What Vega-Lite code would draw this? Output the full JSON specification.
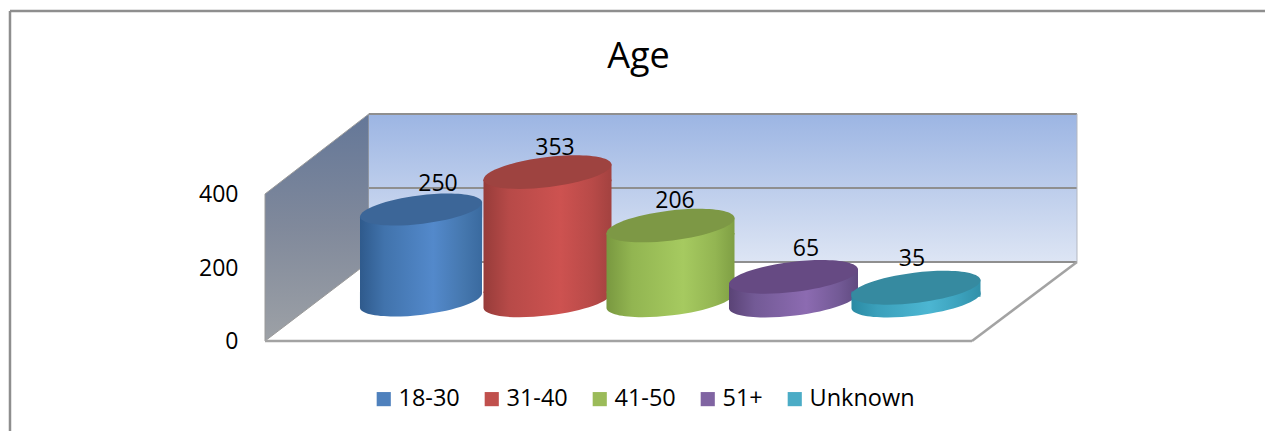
{
"$schema":"https://vega.github.io/schema/vega-lite/v6.json",
"width":1265,"height":431,"padding":0,"autosize":{"type":"none"},
"background":"white",
"view":{"stroke":null},
"title":{"text":"Age","font":"Open Sans","fontSize":36,"fontWeight":"normal","color":"#000000","anchor":"middle","dx":6,"dy":104,"offset":0,"baseline":"alphabetic"},
"data":{"values":[{"age":"18-30","count":250},{"age":"31-40","count":353},{"age":"41-50","count":206},{"age":"51+","count":65},{"age":"Unknown","count":35}]},
"resolve":{"scale":{"x":"independent","y":"independent"},"axis":{"y":"independent","x":"independent"}},
"layer":[
{"layer":[
 {"data":{"values":[{"depth":0,"lo":0,"hi":400},{"depth":14.7,"lo":215,"hi":618}]},
  "mark":{"type":"area","orient":"vertical","color":{"gradient":"linear","x1":0,"x2":0,"y1":0,"y2":1,"stops":[{"offset":0,"color":"#647798"},{"offset":0.5,"color":"#80899b"},{"offset":1,"color":"#9da1a6"}]},"stroke":"#9a9a9a","strokeWidth":1},
  "encoding":{"x":{"field":"depth","type":"quantitative","scale":{"domain":[0,100],"range":[265,972],"nice":false,"zero":false},"axis":null},
   "y":{"field":"lo","type":"quantitative","scale":{"domain":[0,400],"range":[341,194],"nice":false},"axis":{"values":[0,200,400],"title":null,"domain":false,"ticks":false,"grid":false,"offset":-240,"labelPadding":2,"labelOffset":0.5,"labelFont":"Open Sans","labelFontSize":23,"labelColor":"#000000"}},
   "y2":{"field":"hi"}}},
 {"data":{"values":[{"wall":"back"}]},
  "mark":{"type":"rect","color":{"gradient":"linear","x1":0,"x2":0,"y1":0,"y2":1,"stops":[{"offset":0,"color":"#9cb5e3"},{"offset":1,"color":"#dde5f4"}]}},
  "encoding":{"x":{"datum":14.7,"type":"quantitative"},"x2":{"datum":114.85},"y":{"datum":215,"type":"quantitative"},"y2":{"datum":618}}},
 {"data":{"values":[{"grid":618},{"grid":416},{"grid":215}]},
  "mark":{"type":"rule","color":"#8f8f8f","strokeWidth":2},
  "encoding":{"x":{"datum":14.7,"type":"quantitative"},"x2":{"datum":114.85},"y":{"field":"grid","type":"quantitative"}}},
 {"data":{"values":[{"edge":"right"}]},
  "mark":{"type":"rule","color":"#b4b8c0","strokeWidth":1},
  "encoding":{"x":{"datum":114.85,"type":"quantitative"},"y":{"datum":215,"type":"quantitative"},"y2":{"datum":618}}},
 {"data":{"values":[{"edge":"floor front"}]},
  "mark":{"type":"rule","color":"#a3a3a3","strokeWidth":2.5},
  "encoding":{"x":{"datum":0,"type":"quantitative"},"x2":{"datum":100},"y":{"datum":0,"type":"quantitative"}}},
 {"data":{"values":[{"edge":"floor right"}]},
  "mark":{"type":"rule","color":"#a3a3a3","strokeWidth":2.5},
  "encoding":{"x":{"datum":100,"type":"quantitative"},"x2":{"datum":114.85},"y":{"datum":0,"type":"quantitative"},"y2":{"datum":215}}},
 {"data":{"values":[{"edge":"frame top"}]},
  "mark":{"type":"rule","color":"#8e8e8e","strokeWidth":2.5},
  "encoding":{"x":{"datum":-36.07,"type":"quantitative"},"x2":{"datum":141.44},"y":{"datum":898,"type":"quantitative"}}},
 {"data":{"values":[{"edge":"frame left"}]},
  "mark":{"type":"rule","color":"#8e8e8e","strokeWidth":2.5},
  "encoding":{"x":{"datum":-36.07,"type":"quantitative"},"y":{"datum":-245,"type":"quantitative"},"y2":{"datum":898}}}
]},
{"encoding":{
  "x":{"field":"age","type":"nominal","sort":null,"scale":{"type":"point","domain":["18-30","31-40","41-50","51+","Unknown"],"range":[421,909],"padding":0},"axis":null},
  "y":{"field":"count","type":"quantitative","scale":{"domain":[0,400],"range":[300.5,155],"nice":false},"axis":null}},
 "layer":[
 {"mark":{"type":"bar","width":100,"yOffset":12,"y2Offset":-12},
  "encoding":{"y2":{"datum":0},"color":{"field":"age","type":"nominal","sort":null,"scale":{"domain":["18-30","31-40","41-50","51+","Unknown"],"range":["#4f81bd","#c0504d","#9bbb59","#8064a2","#4bacc6"]},
   "legend":{"title":null,"orient":"none","legendX":372,"legendY":387,"direction":"horizontal","columns":5,"symbolType":"square","symbolSize":200,"symbolStrokeWidth":0,"labelFont":"Open Sans","labelFontSize":23.5,"labelColor":"#000000","labelOffset":3,"columnPadding":20,"symbolOpacity":1}}}},
 {"transform":[{"filter":"datum.age==='18-30'"}],"layer":[
  {"mark":{"type":"point","filled":true,"size":15129,"shape":"M-0.9925,-0.14 L0.9925,-0.14 L0.9925,-0.1219 A1,0.234,-7,0,1,-0.9925,0.1219 Z","fill":{"gradient":"linear","x1":0,"x2":1,"y1":0,"y2":0,"stops":[{"offset":0,"color":"#2f5a8c"},{"offset":0.2,"color":"#4173ac"},{"offset":0.6,"color":"#5389cb"},{"offset":0.85,"color":"#4577ae"},{"offset":1,"color":"#3a6a9f"}]},"opacity":1,"stroke":null},"encoding":{"y":{"datum":0,"type":"quantitative"}}},
  {"mark":{"type":"bar","width":122,"yOffset":7.5,"y2Offset":-7.5,"fill":{"gradient":"linear","x1":0,"x2":1,"y1":0,"y2":0,"stops":[{"offset":0,"color":"#2f5a8c"},{"offset":0.2,"color":"#4173ac"},{"offset":0.6,"color":"#5389cb"},{"offset":0.85,"color":"#4577ae"},{"offset":1,"color":"#3a6a9f"}]}},"encoding":{"y2":{"datum":0}}},
  {"mark":{"type":"point","filled":true,"size":15129,"shape":"M-0.9925,0.1219 L-0.9925,0.14 L0.9925,0.14 L0.9925,-0.1219 Z","fill":{"gradient":"linear","x1":0,"x2":1,"y1":0,"y2":0,"stops":[{"offset":0,"color":"#2f5a8c"},{"offset":0.2,"color":"#4173ac"},{"offset":0.6,"color":"#5389cb"},{"offset":0.85,"color":"#4577ae"},{"offset":1,"color":"#3a6a9f"}]},"opacity":1,"stroke":null}},
  {"mark":{"type":"point","filled":true,"size":15129,"shape":"M-0.9925,0.1219 A1,0.234,-7,0,1,0.9925,-0.1219 A1,0.234,-7,0,1,-0.9925,0.1219 Z","fill":"#3c6698","opacity":1,"stroke":null}},
  {"mark":{"type":"text","font":"Open Sans","fontSize":23,"color":"#000000","dx":17,"dy":-19,"baseline":"alphabetic"},"encoding":{"text":{"field":"count","type":"quantitative"}}}
 ]},
 {"transform":[{"filter":"datum.age==='31-40'"}],"layer":[
  {"mark":{"type":"point","filled":true,"xOffset":4.5,"size":16641,"shape":"M-0.9925,-0.14 L0.9925,-0.14 L0.9925,-0.1219 A1,0.234,-7,0,1,-0.9925,0.1219 Z","fill":{"gradient":"linear","x1":0,"x2":1,"y1":0,"y2":0,"stops":[{"offset":0,"color":"#973c3a"},{"offset":0.2,"color":"#b74a48"},{"offset":0.6,"color":"#cd5250"},{"offset":0.85,"color":"#b84a48"},{"offset":1,"color":"#a34240"}]},"opacity":1,"stroke":null},"encoding":{"y":{"datum":0,"type":"quantitative"}}},
  {"mark":{"type":"bar","width":128,"xOffset":4.5,"yOffset":7.5,"y2Offset":-7.5,"fill":{"gradient":"linear","x1":0,"x2":1,"y1":0,"y2":0,"stops":[{"offset":0,"color":"#973c3a"},{"offset":0.2,"color":"#b74a48"},{"offset":0.6,"color":"#cd5250"},{"offset":0.85,"color":"#b84a48"},{"offset":1,"color":"#a34240"}]}},"encoding":{"y2":{"datum":0}}},
  {"mark":{"type":"point","filled":true,"xOffset":4.5,"size":16641,"shape":"M-0.9925,0.1219 L-0.9925,0.14 L0.9925,0.14 L0.9925,-0.1219 Z","fill":{"gradient":"linear","x1":0,"x2":1,"y1":0,"y2":0,"stops":[{"offset":0,"color":"#973c3a"},{"offset":0.2,"color":"#b74a48"},{"offset":0.6,"color":"#cd5250"},{"offset":0.85,"color":"#b84a48"},{"offset":1,"color":"#a34240"}]},"opacity":1,"stroke":null}},
  {"mark":{"type":"point","filled":true,"xOffset":4.5,"size":16641,"shape":"M-0.9925,0.1219 A1,0.234,-7,0,1,0.9925,-0.1219 A1,0.234,-7,0,1,-0.9925,0.1219 Z","fill":"#9e4340","opacity":1,"stroke":null}},
  {"mark":{"type":"text","font":"Open Sans","fontSize":23,"color":"#000000","dx":12,"dy":-17,"baseline":"alphabetic"},"encoding":{"text":{"field":"count","type":"quantitative"}}}
 ]},
 {"transform":[{"filter":"datum.age==='41-50'"}],"layer":[
  {"mark":{"type":"point","filled":true,"xOffset":5.5,"size":16641,"shape":"M-0.9925,-0.14 L0.9925,-0.14 L0.9925,-0.1219 A1,0.234,-7,0,1,-0.9925,0.1219 Z","fill":{"gradient":"linear","x1":0,"x2":1,"y1":0,"y2":0,"stops":[{"offset":0,"color":"#799840"},{"offset":0.2,"color":"#92b551"},{"offset":0.6,"color":"#a6ca60"},{"offset":0.85,"color":"#93b552"},{"offset":1,"color":"#7f9f44"}]},"opacity":1,"stroke":null},"encoding":{"y":{"datum":0,"type":"quantitative"}}},
  {"mark":{"type":"bar","width":128,"xOffset":5.5,"yOffset":7.5,"y2Offset":-7.5,"fill":{"gradient":"linear","x1":0,"x2":1,"y1":0,"y2":0,"stops":[{"offset":0,"color":"#799840"},{"offset":0.2,"color":"#92b551"},{"offset":0.6,"color":"#a6ca60"},{"offset":0.85,"color":"#93b552"},{"offset":1,"color":"#7f9f44"}]}},"encoding":{"y2":{"datum":0}}},
  {"mark":{"type":"point","filled":true,"xOffset":5.5,"size":16641,"shape":"M-0.9925,0.1219 L-0.9925,0.14 L0.9925,0.14 L0.9925,-0.1219 Z","fill":{"gradient":"linear","x1":0,"x2":1,"y1":0,"y2":0,"stops":[{"offset":0,"color":"#799840"},{"offset":0.2,"color":"#92b551"},{"offset":0.6,"color":"#a6ca60"},{"offset":0.85,"color":"#93b552"},{"offset":1,"color":"#7f9f44"}]},"opacity":1,"stroke":null}},
  {"mark":{"type":"point","filled":true,"xOffset":5.5,"size":16641,"shape":"M-0.9925,0.1219 A1,0.234,-7,0,1,0.9925,-0.1219 A1,0.234,-7,0,1,-0.9925,0.1219 Z","fill":"#7d9845","opacity":1,"stroke":null}},
  {"mark":{"type":"text","font":"Open Sans","fontSize":23,"color":"#000000","dx":10,"dy":-17.5,"baseline":"alphabetic"},"encoding":{"text":{"field":"count","type":"quantitative"}}}
 ]},
 {"transform":[{"filter":"datum.age==='51+'"}],"layer":[
  {"mark":{"type":"point","filled":true,"xOffset":6.5,"size":16900,"shape":"M-0.9925,-0.14 L0.9925,-0.14 L0.9925,-0.1219 A1,0.234,-7,0,1,-0.9925,0.1219 Z","fill":{"gradient":"linear","x1":0,"x2":1,"y1":0,"y2":0,"stops":[{"offset":0,"color":"#5a4376"},{"offset":0.2,"color":"#735a96"},{"offset":0.6,"color":"#8c6bb1"},{"offset":0.85,"color":"#735a96"},{"offset":1,"color":"#604a80"}]},"opacity":1,"stroke":null},"encoding":{"y":{"datum":0,"type":"quantitative"}}},
  {"mark":{"type":"bar","width":129,"xOffset":6.5,"yOffset":7.5,"y2Offset":-7.5,"fill":{"gradient":"linear","x1":0,"x2":1,"y1":0,"y2":0,"stops":[{"offset":0,"color":"#5a4376"},{"offset":0.2,"color":"#735a96"},{"offset":0.6,"color":"#8c6bb1"},{"offset":0.85,"color":"#735a96"},{"offset":1,"color":"#604a80"}]}},"encoding":{"y2":{"datum":0}}},
  {"mark":{"type":"point","filled":true,"xOffset":6.5,"size":16900,"shape":"M-0.9925,0.1219 L-0.9925,0.14 L0.9925,0.14 L0.9925,-0.1219 Z","fill":{"gradient":"linear","x1":0,"x2":1,"y1":0,"y2":0,"stops":[{"offset":0,"color":"#5a4376"},{"offset":0.2,"color":"#735a96"},{"offset":0.6,"color":"#8c6bb1"},{"offset":0.85,"color":"#735a96"},{"offset":1,"color":"#604a80"}]},"opacity":1,"stroke":null}},
  {"mark":{"type":"point","filled":true,"xOffset":6.5,"size":16900,"shape":"M-0.9925,0.1219 A1,0.234,-7,0,1,0.9925,-0.1219 A1,0.234,-7,0,1,-0.9925,0.1219 Z","fill":"#664a83","opacity":1,"stroke":null}},
  {"mark":{"type":"text","font":"Open Sans","fontSize":23,"color":"#000000","dx":19,"dy":-21,"baseline":"alphabetic"},"encoding":{"text":{"field":"count","type":"quantitative"}}}
 ]},
 {"transform":[{"filter":"datum.age==='Unknown'"}],"layer":[
  {"mark":{"type":"point","filled":true,"xOffset":7,"size":16900,"shape":"M-0.9925,-0.14 L0.9925,-0.14 L0.9925,-0.1219 A1,0.234,-7,0,1,-0.9925,0.1219 Z","fill":{"gradient":"linear","x1":0,"x2":1,"y1":0,"y2":0,"stops":[{"offset":0,"color":"#2a8aa3"},{"offset":0.2,"color":"#3ba0bb"},{"offset":0.6,"color":"#4cb6d2"},{"offset":0.85,"color":"#3ba0bb"},{"offset":1,"color":"#3190a9"}]},"opacity":1,"stroke":null},"encoding":{"y":{"datum":0,"type":"quantitative"}}},
  {"mark":{"type":"bar","width":129,"xOffset":7,"yOffset":7.5,"y2Offset":-7.5,"fill":{"gradient":"linear","x1":0,"x2":1,"y1":0,"y2":0,"stops":[{"offset":0,"color":"#2a8aa3"},{"offset":0.2,"color":"#3ba0bb"},{"offset":0.6,"color":"#4cb6d2"},{"offset":0.85,"color":"#3ba0bb"},{"offset":1,"color":"#3190a9"}]}},"encoding":{"y2":{"datum":0}}},
  {"mark":{"type":"point","filled":true,"xOffset":7,"size":16900,"shape":"M-0.9925,0.1219 L-0.9925,0.14 L0.9925,0.14 L0.9925,-0.1219 Z","fill":{"gradient":"linear","x1":0,"x2":1,"y1":0,"y2":0,"stops":[{"offset":0,"color":"#2a8aa3"},{"offset":0.2,"color":"#3ba0bb"},{"offset":0.6,"color":"#4cb6d2"},{"offset":0.85,"color":"#3ba0bb"},{"offset":1,"color":"#3190a9"}]},"opacity":1,"stroke":null}},
  {"mark":{"type":"point","filled":true,"xOffset":7,"size":16900,"shape":"M-0.9925,0.1219 A1,0.234,-7,0,1,0.9925,-0.1219 A1,0.234,-7,0,1,-0.9925,0.1219 Z","fill":"#368aa0","opacity":1,"stroke":null}},
  {"mark":{"type":"text","font":"Open Sans","fontSize":23,"color":"#000000","dx":3,"dy":-22,"baseline":"alphabetic"},"encoding":{"text":{"field":"count","type":"quantitative"}}}
 ]}
 ]}
]}
